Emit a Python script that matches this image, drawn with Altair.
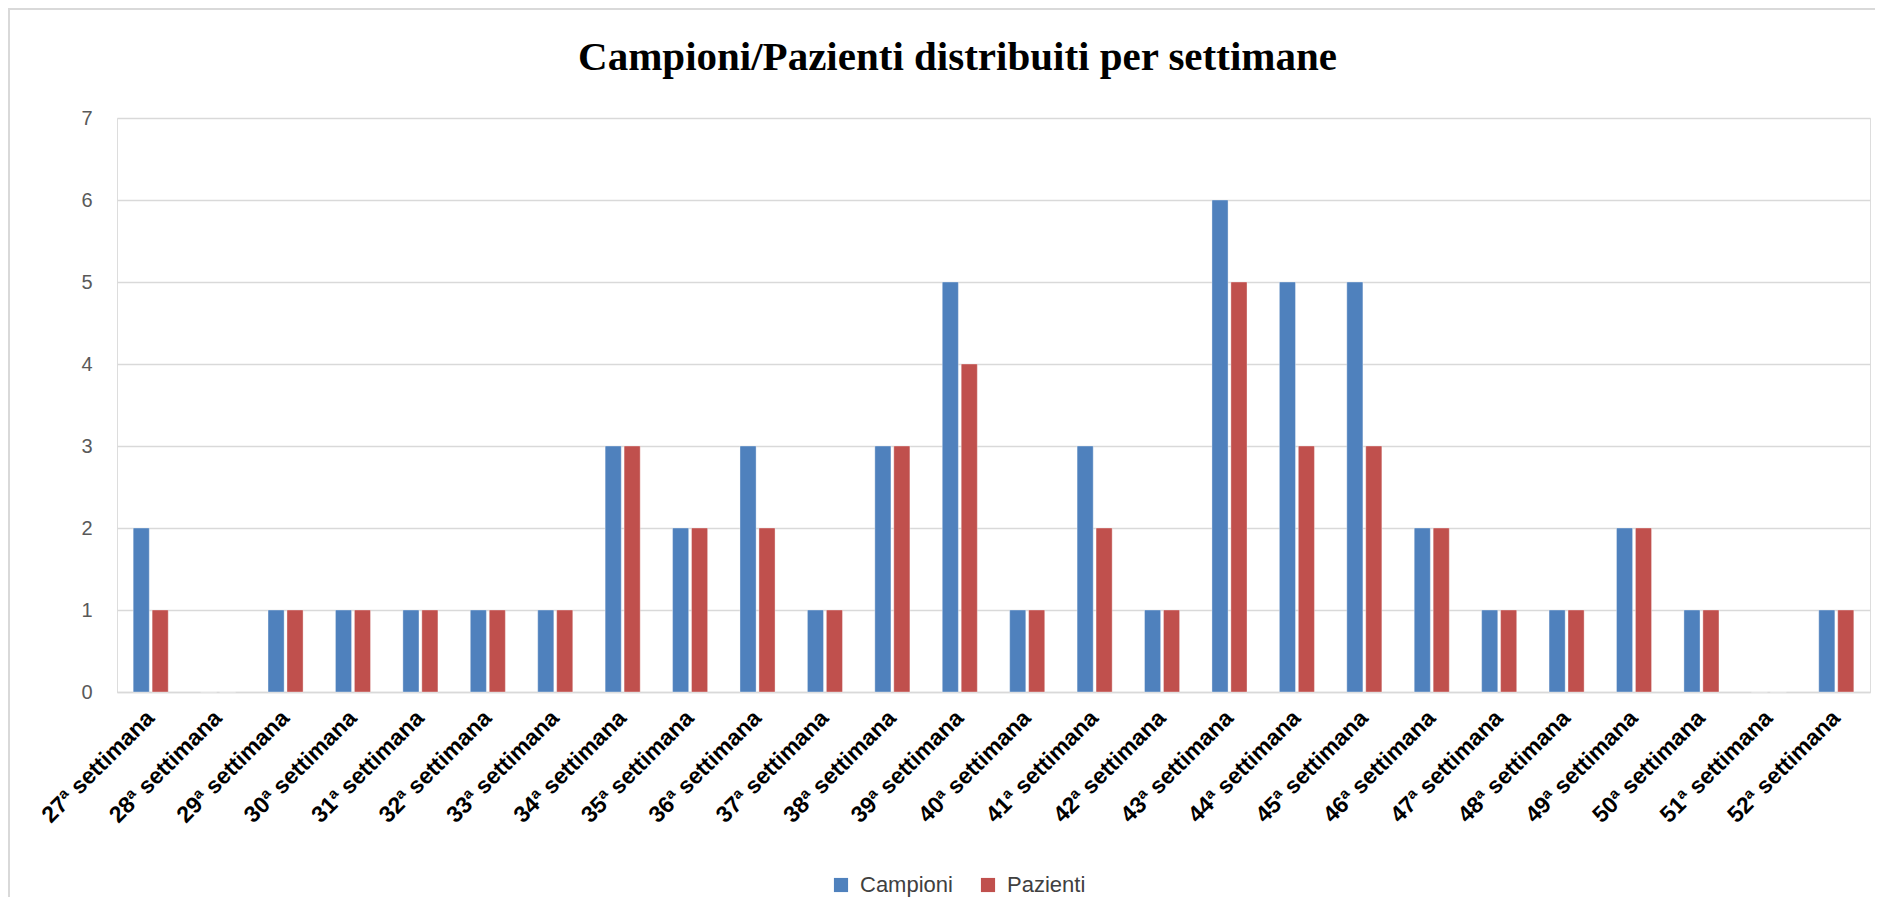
import altair as alt
import pandas as pd

weeks = [f"{n}ª settimana" for n in range(27, 53)]
campioni = [2, 0, 1, 1, 1, 1, 1, 3, 2, 3, 1, 3, 5, 1, 3, 1, 6, 5, 5, 2, 1, 1, 2, 1, 0, 1]
pazienti = [1, 0, 1, 1, 1, 1, 1, 3, 2, 2, 1, 3, 4, 1, 2, 1, 5, 3, 3, 2, 1, 1, 2, 1, 0, 1]
series = ["Campioni", "Pazienti"]
colors = ["#4F81BD", "#C0504D"]
y_ticks = [0, 1, 2, 3, 4, 5, 6, 7]
title_text = "Campioni/Pazienti  distribuiti per settimane"

rows = []
for w, c, p in zip(weeks, campioni, pazienti):
    rows.append({"week": w, "serie": series[0], "value": c})
    rows.append({"week": w, "serie": series[1], "value": p})
df = pd.DataFrame(rows)

W, H = 1753, 574

bars = alt.Chart(df).mark_bar(stroke="#FFFFFF", strokeWidth=0.6, strokeOpacity=0.6).encode(
    x=alt.X("week:N", sort=weeks, title=None,
            scale=alt.Scale(paddingInner=0.48, paddingOuter=0.24),
            axis=alt.Axis(labelAngle=-45, labelAlign="right", labelBaseline="middle",
                          labelFont="Liberation Sans", labelFontWeight="bold",
                          labelFontSize=23, labelColor="#000000", labelPadding=22,
                          ticks=False, domain=True, domainColor="#D9D9D9",
                          domainWidth=1.3, grid=False)),
    xOffset=alt.XOffset("serie:N", sort=series,
                        scale=alt.Scale(paddingInner=0.15, paddingOuter=0)),
    y=alt.Y("value:Q", title=None,
            scale=alt.Scale(domain=[0, 7], nice=False),
            axis=alt.Axis(values=y_ticks, labelFont="Liberation Sans", labelFontSize=20,
                          labelColor="#595959", labelPadding=25, ticks=False,
                          domain=False, grid=True, gridColor="#D9D9D9",
                          gridWidth=1.3)),
    color=alt.Color("serie:N", sort=series,
                    scale=alt.Scale(domain=series, range=colors),
                    legend=alt.Legend(title=None, orient="none", direction="horizontal",
                                      legendX=713, legendY=756,
                                      symbolType="square", symbolSize=200,
                                      symbolStrokeWidth=0,
                                      labelFont="Liberation Sans", labelFontSize=22,
                                      labelColor="#404040", columnPadding=24,
                                      labelOffset=8)),
)

frame = alt.Chart(alt.Data(values=[{"k": 1}])).mark_rect(
    fill=None, stroke="#D9D9D9", strokeWidth=2
).encode(
    x=alt.value(-108), x2=alt.value(W + 40),
    y=alt.value(-109), y2=alt.value(H + 400),
)

chart = alt.layer(frame, bars).properties(
    width=W, height=H,
    title=alt.TitleParams(title_text, font="Liberation Serif", fontSize=41,
                          fontWeight="bold", color="#000000", anchor="middle",
                          frame="group", baseline="alphabetic", dx=-36, offset=0, dy=103),
    autosize=alt.AutoSizeParams(type="none"),
    padding={"left": 109, "top": 110, "right": 5, "bottom": 205},
).configure_view(stroke=None).configure(background="#FFFFFF")

chart.save("out.html", embed_options={"renderer": "svg", "actions": False})
